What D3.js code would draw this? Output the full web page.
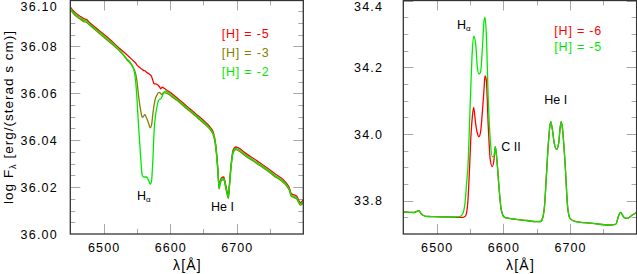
<!DOCTYPE html>
<html><head><meta charset="utf-8">
<script src="https://cdn.jsdelivr.net/npm/d3@7"></script>
<style>
html,body{margin:0;padding:0;background:#fff;}
text{font-family:"Liberation Sans",Arial,sans-serif;}
</style></head>
<body><svg id="c" width="637" height="274"></svg>
<script>
// ---------- DATA ----------
const leftWave = [6450,6452,6457,6464,6471,6474,6478,6495,6510,6525,
 6530,6535,6540,6545,6548,6550,6552,6554,6556,6558,
 6560,6562,6564,6566,6568,6570,6572,6574,6576,6578,
 6580,6582,6584,6586,6588,6590,6593,6596,6600,6610,
 6625,6640,6652,
 6660,6665,6668.5,6670.5,6672,6673.5,6675,6677,6680.5,6683.5,
 6685.5,6687.5,6689,6690.5,6692.5,6694.5,6698.5,6704.5,6712,6730,
 6755,6778.5,6782,6790,6795.5,6800];
const leftH5 = [36.0970,36.0960,36.0945,36.0930,36.0917,36.0915,36.0904,36.0864,36.0828,36.0789,
 36.0777,36.0764,36.0751,36.0738,36.0730,36.0721,36.0715,36.0711,36.0706,36.0702,
 36.0698,36.0696,36.0691,36.0687,36.0683,36.0679,36.0672,36.0655,36.0640,36.0640,
 36.0638,36.0634,36.0628,36.0619,36.0626,36.0623,36.0617,36.0611,36.0604,36.0581,
 36.0545,36.0509,36.0479,
 36.0456,36.0432,36.0381,36.0321,36.0264,36.0200,36.0223,36.0239,36.0243,36.0208,
 36.0181,36.0162,36.0211,36.0265,36.0321,36.0357,36.0371,36.0364,36.0347,36.0313,
 36.0262,36.0201,36.0172,36.0162,36.0134,36.0147];
const leftH3 = [36.0959,36.0949,36.0933,36.0918,36.0905,36.0903,36.0893,36.0852,36.0816,
 36.0777,36.0762,36.0743,36.0728,36.0706,36.0685,36.0655,36.0604,36.0557,36.0523,
 36.0498,36.0502,36.0509,36.0498,36.0485,36.0468,36.0453,36.0464,36.0511,36.0553,
 36.0579,36.0591,36.0602,36.0604,36.0598,36.0594,36.0604,36.0602,36.0598,36.0591,
 36.0570,36.0534,36.0498,36.0468,
 36.0445,36.0421,36.0369,36.0310,36.0253,36.0192,36.0212,36.0228,36.0232,36.0196,
 36.0169,36.0151,36.0199,36.0253,36.0310,36.0345,36.0360,36.0352,36.0335,36.0301,
 36.0250,36.0189,36.0161,36.0150,36.0123,36.0133];
const leftH2 = [36.0964,36.0954,36.0939,36.0924,36.0911,36.0909,36.0898,36.0858,36.0822,
 36.0781,36.0764,36.0747,36.0732,36.0706,36.0655,36.0583,36.0485,36.0400,36.0315,
 36.0251,36.0243,36.0243,36.0243,36.0238,36.0226,36.0213,36.0226,36.0315,36.0443,
 36.0506,36.0540,36.0566,36.0574,36.0577,36.0587,36.0600,36.0609,36.0604,36.0598,
 36.0575,36.0539,36.0503,36.0473,
 36.0450,36.0426,36.0374,36.0315,36.0258,36.0196,36.0217,36.0233,36.0237,36.0201,
 36.0174,36.0156,36.0204,36.0258,36.0315,36.0350,36.0365,36.0357,36.0340,36.0306,
 36.0255,36.0194,36.0166,36.0155,36.0128,36.0138];

const rightWave = [6450,6460,6466,6470,6473.5,6476,6480,6487,6495,6520,
 6535,6539.5,6543,6545,6547,6549.5,6551,6553.5,6555.5,6558.5,
 6561,6563.5,6566,6568.5,6571,6572.5,6574.5,6577.5,6580.5,6583.5,
 6586,6588,6590.5,6593.5,6597,6602,6609,6619,6635,6649,
 6656,6659,6662,6664,6668,6671,6673,6676.5,6680,6683,
 6685.5,6687,6689,6693,6696.5,6700,6709,6734,6758.5,6768.5,
 6773.5,6776,6781,6786,6793.5,6800];
const rightH6 = [33.766,33.765,33.7645,33.7675,33.770,33.763,33.7555,33.7525,33.752,33.751,
 33.750,33.750,33.753,33.764,33.802,33.902,33.975,34.050,34.080,34.032,
 34.003,33.992,34.007,34.063,34.132,34.174,34.162,34.022,33.922,33.902,
 33.922,33.962,33.920,33.842,33.772,33.750,33.747,33.744,33.7405,33.737,
 33.7375,33.748,33.787,33.852,33.982,34.037,34.022,33.972,33.954,33.972,
 34.022,34.037,34.012,33.902,33.782,33.747,33.737,33.732,33.727,33.729,
 33.757,33.765,33.750,33.747,33.757,33.7645];
const rightH5 = [33.766,33.765,33.7645,33.7675,33.770,33.763,33.7555,33.7525,33.752,33.751,
 33.752,33.762,33.802,33.853,33.902,34.040,34.124,34.249,34.294,34.272,
 34.202,34.180,34.187,34.252,34.337,34.350,34.302,34.102,33.982,33.932,
 33.932,33.962,33.920,33.842,33.772,33.750,33.747,33.744,33.7405,33.737,
 33.7375,33.748,33.787,33.852,33.982,34.037,34.022,33.972,33.954,33.972,
 34.022,34.037,34.012,33.902,33.782,33.747,33.737,33.732,33.727,33.729,
 33.757,33.765,33.750,33.747,33.757,33.7645];

const xTicks = [6500,6600,6700];
const leftYTicks = [36.00,36.02,36.04,36.06,36.08,36.10];
const rightYTicks = [33.8,34.0,34.2,34.4];
const leftLegend = ["[H] = -5","[H] = -3","[H] = -2"];
const rightLegend = ["[H] = -6","[H] = -5"];

// ---------- DRAW ----------
const RED="#ff0000", OLIVE="#858000", GREEN="#00ea00";
const svg = d3.select("#c");
const defs = svg.append("defs");

function panel(cfg){
  const g = svg.append("g");
  const x = d3.scaleLinear().domain([6450,6800]).range([cfg.x0,cfg.x1]);
  const y = d3.scaleLinear().domain(cfg.yDom).range([234,cfg.yTop]);
  const id = "clip"+cfg.id;
  defs.append("clipPath").attr("id",id).append("rect")
    .attr("x",cfg.x0).attr("y",0.5).attr("width",cfg.x1-cfg.x0).attr("height",233.5);

  // ticks (inward on all four sides)
  const tg = g.append("g").attr("stroke","#a8a8a8").attr("stroke-width",1);
  const xMinor = d3.range(6450,6801,50);
  xMinor.forEach(v=>{
    const len = xTicks.includes(v)?10:5;
    const px = Math.round(x(v))+0.5;
    tg.append("line").attr("x1",px).attr("x2",px).attr("y1",234).attr("y2",234-len);
    tg.append("line").attr("x1",px).attr("x2",px).attr("y1",0.5).attr("y2",0.5+len);
  });
  const yMinor = d3.range(cfg.yDom[0], cfg.yDom[1]+cfg.yMinorStep/2, cfg.yMinorStep);
  yMinor.forEach(v=>{
    const major = cfg.yTicks.some(t=>Math.abs(t-v)<1e-9);
    const len = major?10:5;
    const py = Math.round(y(v))+0.5;
    if(py<1||py>233) return;
    tg.append("line").attr("x1",cfg.x0).attr("x2",cfg.x0+len).attr("y1",py).attr("y2",py);
    tg.append("line").attr("x1",cfg.x1).attr("x2",cfg.x1-len).attr("y1",py).attr("y2",py);
  });

  // curves
  const cg = g.append("g").attr("clip-path",`url(#${id})`);
  const line = d3.line().x((d,i)=>x(cfg.wave[i])).y(d=>y(d)).curve(d3.curveMonotoneX);
  cfg.series.forEach(s=>{
    cg.append("path").attr("d",line(s.values)).attr("fill","none")
      .attr("stroke",s.color).attr("stroke-width",1.3).attr("stroke-linejoin","round");
  });

  // frame
  g.append("rect").attr("x",cfg.x0).attr("y",0.5).attr("width",cfg.x1-cfg.x0).attr("height",233.5)
    .attr("fill","none").attr("stroke","#333").attr("stroke-width",1.3);

  // tick labels
  xTicks.forEach(v=>{
    g.append("text").attr("x",x(v)+0.6).attr("y",251.5).attr("text-anchor","middle")
      .attr("font-size",12.5).attr("letter-spacing",1.1).text(v);
  });
  cfg.yTicks.forEach(v=>{
    g.append("text").attr("x",cfg.labelX+1.2).attr("y",Math.max(y(v),6.5)+4.5)
      .attr("text-anchor","end").attr("font-size",12.5).attr("letter-spacing",1.2)
      .text(v.toFixed(cfg.dec));
  });
  // x title
  g.append("text").attr("x",(cfg.x0+cfg.x1)/2+0.6).attr("y",270).attr("text-anchor","middle")
    .attr("font-size",14).attr("letter-spacing",1.2).text("λ[Å]");

  // legend
  cfg.legend.forEach((t,i)=>{
    g.append("text").attr("x",cfg.legX).attr("y",cfg.legY[i]).attr("font-size",12.5)
      .attr("letter-spacing",0.8).attr("fill",cfg.legCol[i]).text(t);
  });
  // annotations
  cfg.notes.forEach(n=>{
    const t = g.append("text").attr("x",n.x).attr("y",n.y).attr("font-size",12.5);
    if(n.sub){
      t.append("tspan").text(n.t);
      t.append("tspan").attr("font-size",8).attr("dy",2).text(n.sub);
    } else t.text(n.t);
  });
  return {x,y};
}

panel({id:"L", x0:70.3, x1:303.3, yDom:[36,36.1], yTop:-0.5, yTicks:leftYTicks, yMinorStep:0.005,
  dec:2, labelX:56.7, wave:leftWave,
  series:[{values:leftH5,color:RED},{values:leftH3,color:OLIVE},{values:leftH2,color:GREEN}],
  legend:leftLegend, legX:221.7, legY:[37.5,56.5,75.5], legCol:[RED,OLIVE,GREEN],
  notes:[{t:"H",sub:"α",x:137,y:200},{t:"He I",x:211,y:211}]});

panel({id:"R", x0:403.3, x1:636.6, yDom:[33.7,34.4], yTop:0.7, yTicks:rightYTicks, yMinorStep:0.05,
  dec:1, labelX:382, wave:rightWave,
  series:[{values:rightH6,color:RED},{values:rightH5,color:GREEN}],
  legend:rightLegend, legX:554.3, legY:[34.8,50.5], legCol:[RED,GREEN],
  notes:[{t:"H",sub:"α",x:457,y:28.5},{t:"He I",x:544.3,y:103.5},{t:"C II",x:501.3,y:151}]});

// y title (left)
const yt = svg.append("text").attr("transform","translate(12.5,117) rotate(-90)")
  .attr("text-anchor","middle").attr("font-size",13.5).attr("letter-spacing",1);
yt.append("tspan").text("log F");
yt.append("tspan").attr("font-size",9).attr("dy",3).text("λ");
yt.append("tspan").attr("dy",-3).text(" [erg/(sterad s cm)]");
</script></body></html>
